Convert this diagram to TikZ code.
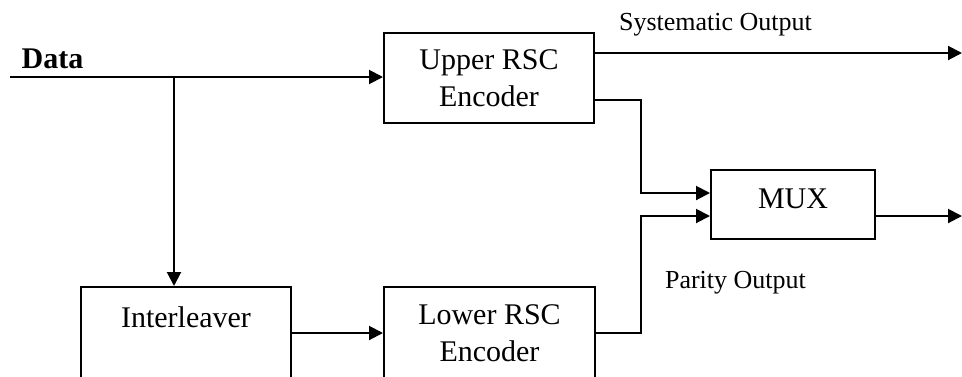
\documentclass[tikz,border=0pt]{standalone}
\usepackage{fontspec}
\setmainfont{Liberation Serif}
\usetikzlibrary{arrows.meta}

\tikzset{
  block/.style={draw, line width=2pt, rectangle, inner sep=0pt,
    font=\fontsize{30}{37}\selectfont, align=center},
  wire/.style={line width=2pt},
  arr/.style={wire, -{Triangle[length=14pt,width=14pt]}},
  tag/.style={font=\fontsize{26}{30}\selectfont, inner sep=0pt, anchor=base}
}

\begin{document}
\begin{tikzpicture}[x=1pt, y=-1pt]
  \useasboundingbox (0,0) rectangle (962,376);
  \clip (0,0) rectangle (962,376);
  \fill[white] (0,0) rectangle (962,376);

  % blocks
  \node[block, minimum width=210pt, minimum height=90pt] (upper) at (489,78)
    {Upper RSC\\Encoder};
  \node[block, minimum width=164pt, minimum height=69pt] (mux) at (793,204.5)
    {\raisebox{-3.5pt}[0pt][0pt]{MUX}};
  \node[block, minimum width=210pt, minimum height=92pt] (inter) at (186,333)
    {\raisebox{6pt}[0pt][0pt]{Interleaver}};
  \node[block, minimum width=211pt, minimum height=92pt] (lower) at (489.5,333)
    {Lower RSC\\Encoder};

  % labels
  \node[font=\fontsize{30}{30}\selectfont\bfseries, inner sep=0pt, anchor=base]
    (data) at (52.5,68.3) {Data};
  \node[tag] (sys) at (715.5,30.7) {Systematic Output};
  \node[tag] (par) at (735.5,288.3) {Parity Output};

  % junction and turning points
  \coordinate (din) at (10,77);
  \coordinate (br) at (174,77);
  \coordinate (sysout) at (962,53);
  \coordinate (muxout) at (962,216);
  \coordinate (ua) at (641,100);
  \coordinate (ub) at (641,193);
  \coordinate (la) at (641,333);
  \coordinate (lb) at (641,216);

  % data path
  \draw[arr] (din) -- (upper.west |- din);
  \draw[arr] (br) -- (br |- inter.north);
  \draw[arr] (inter.east) -- (lower.west);

  % systematic output
  \draw[arr] (upper.east |- sysout) -- (sysout);

  % parity streams into the multiplexer
  \draw[arr] (upper.east |- ua) -- (ua) -- (ub) -- (mux.west |- ub);
  \draw[arr] (lower.east |- la) -- (la) -- (lb) -- (mux.west |- lb);

  % multiplexer output
  \draw[arr] (mux.east |- muxout) -- (muxout);
\end{tikzpicture}
\end{document}
